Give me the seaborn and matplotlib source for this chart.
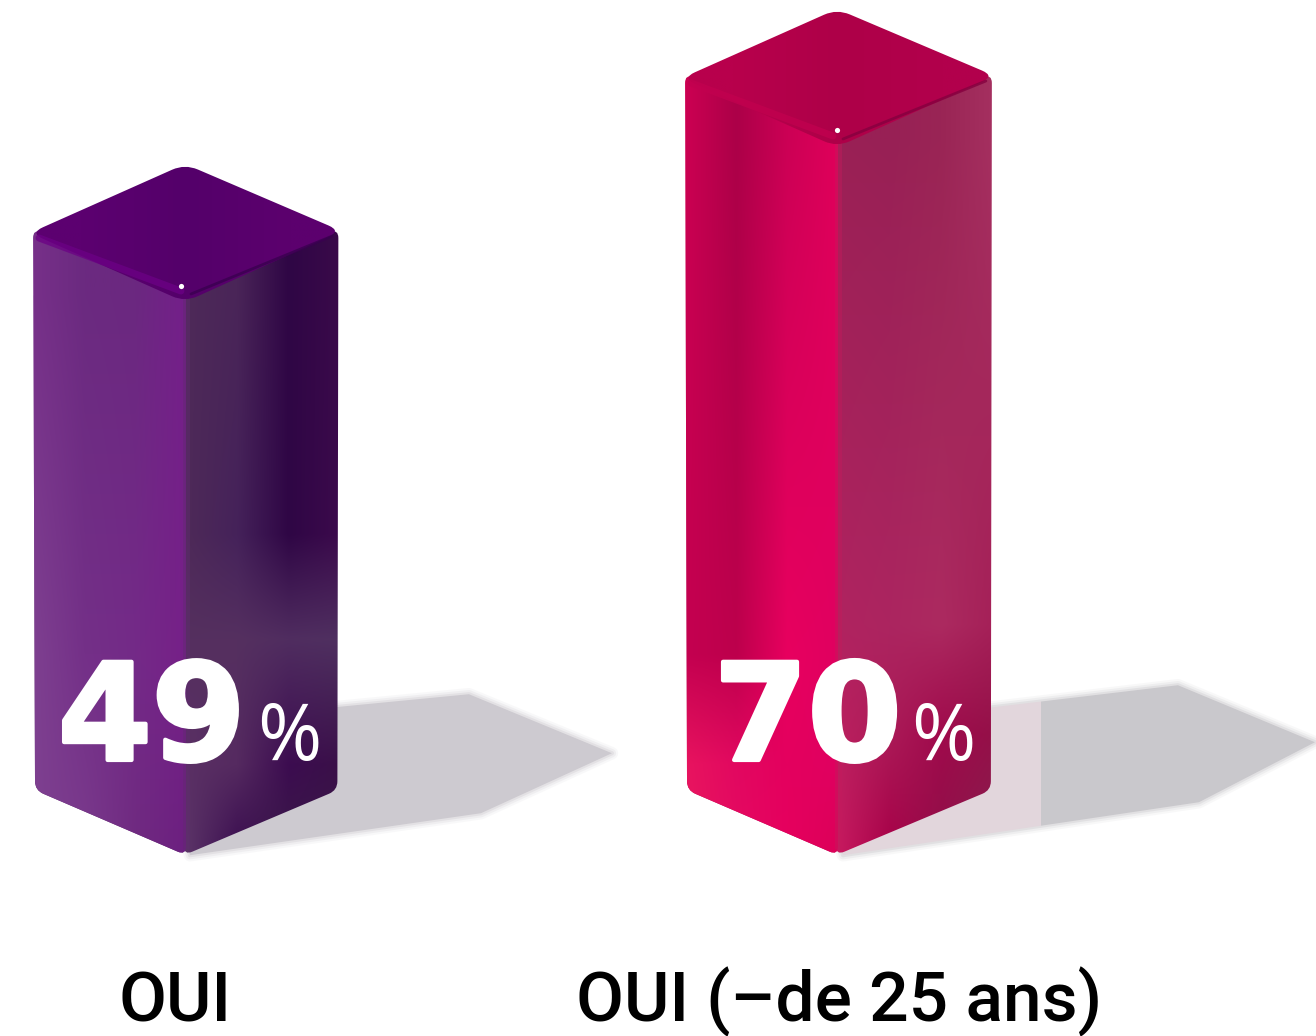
import numpy as np
import pandas as pd
import seaborn as sns
import matplotlib.pyplot as plt
import matplotlib.patheffects as pe
from matplotlib.colors import to_rgb
from matplotlib.path import Path
from matplotlib.patches import PathPatch, Polygon

# Data
labels = ['OUI', 'OUI (–de 25 ans)']
values = [49, 70]
bar_colors = ['#6e2a80', '#cc0055']
# the bars of the picture do not start at 0, their foot is below it
baseline = -26.9

# Look of the faces: (height above foot in px, colours from left to right)
left_shades = [
    [(0, ['#7e4090', '#7a3a8c', '#6f2a80', '#6c1f80']),
     (200, ['#7e4090', '#743088', '#742a88', '#762088']),
     (560, ['#773089', '#6b2a80', '#6b2880', '#741f8a'])],
    [(0, ['#e8185f', '#e60a62', '#e6005e', '#dc0058']),
     (90, ['#e8145f', '#e20860', '#e4005e', '#e00060']),
     (200, ['#c40050', '#bd004c', '#e8005f', '#e00060']),
     (715, ['#cc0052', '#ac0048', '#cc0055', '#e0005a'])],
]
right_shades = [
    [(0, ['#5c3568', '#3a0d50', '#3a1a48', '#3a1a48']),
     (90, ['#5a3064', '#552a60', '#3c0c50', '#3a1048']),
     (215, ['#55305f', '#553060', '#502d60', '#4f3060']),
     (320, ['#4e2a58', '#45225a', '#2f0645', '#3c0a4c']),
     (560, ['#4e2a58', '#4a2558', '#2f0645', '#3a0a4a'])],
    [(0, ['#c81a60', '#a80048', '#8f1048', '#882050']),
     (120, ['#bb205f', '#ab1a57', '#a00a4c', '#941048']),
     (230, ['#b02360', '#ac2560', '#ac2a60', '#a52058']),
     (715, ['#9a2055', '#982055', '#9a2555', '#a53060'])],
]
top_shades = [['#5c0070', '#54006a', '#5c006e'], ['#b8004c', '#ae0048', '#b2004c']]
rim_colors = ['#6c0085', '#c2004f']
dark_rim = ['#3a0050', '#85003f']
ridge_colors = ['#622a72', '#c41a5c']

# Ground shadows, offsets in px from the front foot of each bar
shadow_shapes = [
    [(-5, -40), (150, -148), (284, -161), (427, -102), (296, -42), (5, 0)],
    [(-5, -40), (148, -147), (341, -170), (478, -113), (362, -53), (6, 0)],
]
shadow_colors = [['#cdcad0', '#cdcad0'], ['#e2d6dc', '#c9c8cc']]
shadow_steps = [None, 1041]
right_extra = [1.5, 3]

W, H = 1316, 1036

sns.set_theme(style='white')
plt.rcParams['font.family'] = ['Roboto', 'DejaVu Sans']

df = pd.DataFrame({'label': labels, 'value': values})

fig = plt.figure(figsize=(W / 100, H / 100), dpi=100)
ax = fig.add_axes([0, 0, 1, 1])
sns.barplot(data=df, x='label', y='value', hue='label', palette=bar_colors,
            width=0.233, legend=False, ax=ax)

# scales chosen so both bars land where they are in the picture
px_x = 652
px_y = 155 / (values[1] - values[0])
ax.set_xlim(-109 / px_x, (W - 109) / px_x)
ax.set_ylim(values[0] - (H - 295) / px_y, values[0] + 295 / px_y)
ax.set_axis_off()

for p in ax.patches:
    top = p.get_y() + p.get_height()
    p.set_y(baseline)
    p.set_height(top - baseline)

# overlay in picture pixels for the 3D faces
ov = fig.add_axes([0, 0, 1, 1], facecolor='none')
ov.set_axis_off()


def to_px(x, y):
    dx, dy = ax.transData.transform((x, y))
    return dx, H - dy


def rounded(pts, r):
    verts, codes = [], []
    n = len(pts)
    for i in range(n):
        prev_p = np.array(pts[i - 1], float)
        cur = np.array(pts[i], float)
        next_p = np.array(pts[(i + 1) % n], float)
        a = cur + (prev_p - cur) / np.linalg.norm(prev_p - cur) * r
        b = cur + (next_p - cur) / np.linalg.norm(next_p - cur) * r
        verts += [a, cur, b]
        codes += [Path.MOVETO if i == 0 else Path.LINETO, Path.CURVE3, Path.CURVE3]
    verts.append(verts[0])
    codes.append(Path.CLOSEPOLY)
    return Path(verts, codes)


def shade_face(rows, x0, x1, foot, clip):
    # rows go from the foot upwards
    heights = np.arange(0, 880)
    cols = np.arange(int(x1 - x0) + 2)
    n = len(rows[0][1])
    keys = np.linspace(0, cols[-1], n)
    keyed = np.array([[to_rgb(c) for c in r[1]] for r in rows])
    row_pos = [r[0] for r in rows]
    img = np.zeros((len(heights), len(cols), 3))
    for ch in range(3):
        across = np.array([np.interp(cols, keys, keyed[i, :, ch]) for i in range(len(rows))])
        for j in range(len(cols)):
            img[:, j, ch] = np.interp(heights, row_pos, across[:, j])
    im = ov.imshow(img, extent=(x0, x1 + 2, foot, foot - len(heights)), origin='lower',
                   aspect='auto', interpolation='bilinear', zorder=3)
    im.set_clip_path(PathPatch(clip, transform=ov.transData))


for i, p in enumerate(ax.patches[:len(values)]):
    x0, ytop = to_px(p.get_x(), p.get_y() + p.get_height())
    xm, yfoot = to_px(p.get_x() + p.get_width(), p.get_y())
    x1 = xm + (xm - x0) + right_extra[i]
    rise = 63

    # shadow
    pts = [(xm + a, yfoot + b) for a, b in shadow_shapes[i]]
    for lw, al in [(9, 0.12), (6, 0.2), (3, 0.35)]:
        ov.add_patch(Polygon(pts, closed=True, fc='none', ec=shadow_colors[i][-1], lw=lw,
                             alpha=al, joinstyle='round', zorder=1))
    poly = Polygon(pts, closed=True, fc='none', ec='none', zorder=2)
    ov.add_patch(poly)
    if shadow_steps[i] is None:
        shadow = np.array([[to_rgb(shadow_colors[i][0])]])
        ext = (xm, W, yfoot + 10, yfoot - 200)
    else:
        shadow = np.array([[to_rgb(c) for c in shadow_colors[i]]])
        ext = (2 * shadow_steps[i] - W, W, yfoot + 10, yfoot - 200)
    im = ov.imshow(shadow, extent=ext, aspect='auto', interpolation='nearest', zorder=2)
    im.set_clip_path(poly)

    # left and right faces, their tops run in under the top face
    left = [(x0, ytop - rise - 3), (xm + 1, ytop - 8), (xm + 1, yfoot), (x0 + 2, yfoot - 65)]
    right = [(xm - 1, ytop - 8), (x1, ytop - rise - 3), (x1 - 1, yfoot - 65), (xm - 1, yfoot)]
    left_path = rounded(left, 9)
    p.set_clip_path(PathPatch(left_path, transform=ov.transData))
    shade_face(right_shades[i], xm, x1, yfoot, rounded(right, 9))
    shade_face(left_shades[i], x0, xm, yfoot, left_path)

    # soft ridge where the two faces meet
    ov.plot([xm + 1, xm + 1], [ytop, yfoot - 6], color=ridge_colors[i], lw=5, alpha=0.45,
            solid_capstyle='butt', zorder=3.5)

    # top face
    top_pts = [(x0 - 3, ytop - rise + 1), (xm, ytop - 2 * rise - 5), (x1 + 3, ytop - rise - 1),
               (xm, ytop + 7)]
    top_path = rounded(top_pts, 14)
    grad = np.array([[to_rgb(c) for c in top_shades[i]]])
    im = ov.imshow(grad, extent=(x0 - 4, x1 + 4, ytop + 8, ytop - 2 * rise - 6), aspect='auto',
                   interpolation='bilinear', zorder=4)
    im.set_clip_path(PathPatch(top_path, transform=ov.transData))
    ov.plot([x0 + 6, xm - 4], [ytop - rise + 6, ytop - 4], color=rim_colors[i], lw=5,
            alpha=0.75, solid_capstyle='round', zorder=5)
    ov.plot([xm + 6, x1 - 6], [ytop - 1, ytop - rise + 4], color=dark_rim[i], lw=2,
            alpha=0.8, solid_capstyle='round', zorder=5)
    ov.scatter([xm - 4 if i == 0 else xm], [ytop - 9 if i == 0 else ytop - 10], s=14,
               color='white', linewidths=0, zorder=6)

ov.set_xlim(0, W)
ov.set_ylim(H, 0)

# value labels
value_x = [58, 714]
pct_x = [257, 911]
for i, v in enumerate(values):
    t = ov.text(value_x[i], 760, str(v), color='white', fontsize=97, fontweight='bold',
                family=['DejaVu Sans'], ha='left', va='baseline', zorder=8)
    t.set_path_effects([pe.withStroke(linewidth=3, foreground='white')])
    ov.text(pct_x[i], 760, '%', color='white', fontsize=56, family=['Open Sans'],
            ha='left', va='baseline', zorder=8)

# category labels
label_x = [118, 576]
for i, t in enumerate(labels):
    ov.text(label_x[i], 1021, t, color='black', fontsize=50, fontweight='medium',
            ha='left', va='baseline', zorder=8)

fig.savefig('out.png', dpi=100)
